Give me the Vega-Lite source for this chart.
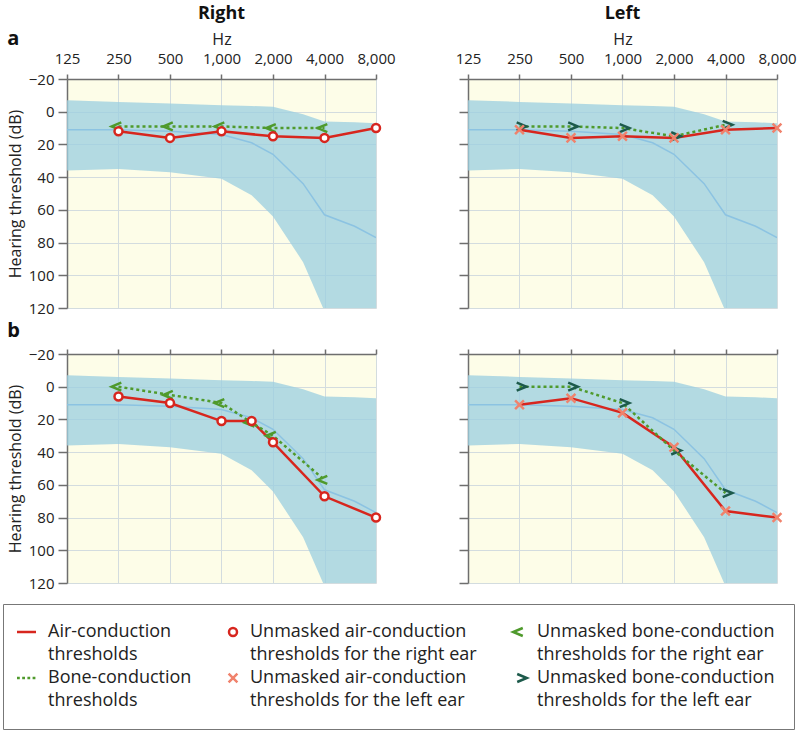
{
  "$schema": "https://vega.github.io/schema/vega-lite/v6.json",
  "background": "white",
  "padding": {"left": 2, "right": 2, "top": 5, "bottom": 2},
  "datasets": {
    "norm": [
      {"freq": 125, "upper": -7, "lower": 36, "median": 11},
      {"freq": 250, "upper": -6, "lower": 35, "median": 11},
      {"freq": 500, "upper": -5, "lower": 37, "median": 12},
      {"freq": 1000, "upper": -4, "lower": 41, "median": 14},
      {"freq": 1500, "upper": -3.5, "lower": 51, "median": 19},
      {"freq": 2000, "upper": -3, "lower": 64, "median": 26},
      {"freq": 3000, "upper": 1.5, "lower": 92, "median": 44},
      {"freq": 4000, "upper": 6, "lower": 122, "median": 63},
      {"freq": 6000, "upper": 6.5, "lower": 140, "median": 70},
      {"freq": 8000, "upper": 7, "lower": 140, "median": 77}
    ],
    "thr": [
      {"panel": "a", "ear": "Right", "kind": "air", "freq": 250, "db": 12},
      {"panel": "a", "ear": "Right", "kind": "air", "freq": 500, "db": 16},
      {"panel": "a", "ear": "Right", "kind": "air", "freq": 1000, "db": 12},
      {"panel": "a", "ear": "Right", "kind": "air", "freq": 2000, "db": 15},
      {"panel": "a", "ear": "Right", "kind": "air", "freq": 4000, "db": 16},
      {"panel": "a", "ear": "Right", "kind": "air", "freq": 8000, "db": 10},
      {"panel": "a", "ear": "Right", "kind": "bone", "freq": 250, "db": 9},
      {"panel": "a", "ear": "Right", "kind": "bone", "freq": 500, "db": 9},
      {"panel": "a", "ear": "Right", "kind": "bone", "freq": 1000, "db": 9},
      {"panel": "a", "ear": "Right", "kind": "bone", "freq": 2000, "db": 10},
      {"panel": "a", "ear": "Right", "kind": "bone", "freq": 4000, "db": 10},
      {"panel": "a", "ear": "Left", "kind": "air", "freq": 250, "db": 11},
      {"panel": "a", "ear": "Left", "kind": "air", "freq": 500, "db": 16},
      {"panel": "a", "ear": "Left", "kind": "air", "freq": 1000, "db": 15},
      {"panel": "a", "ear": "Left", "kind": "air", "freq": 2000, "db": 16},
      {"panel": "a", "ear": "Left", "kind": "air", "freq": 4000, "db": 11},
      {"panel": "a", "ear": "Left", "kind": "air", "freq": 8000, "db": 10},
      {"panel": "a", "ear": "Left", "kind": "bone", "freq": 250, "db": 9},
      {"panel": "a", "ear": "Left", "kind": "bone", "freq": 500, "db": 9},
      {"panel": "a", "ear": "Left", "kind": "bone", "freq": 1000, "db": 10},
      {"panel": "a", "ear": "Left", "kind": "bone", "freq": 2000, "db": 15},
      {"panel": "a", "ear": "Left", "kind": "bone", "freq": 4000, "db": 8},
      {"panel": "b", "ear": "Right", "kind": "air", "freq": 250, "db": 6},
      {"panel": "b", "ear": "Right", "kind": "air", "freq": 500, "db": 10},
      {"panel": "b", "ear": "Right", "kind": "air", "freq": 1000, "db": 21},
      {"panel": "b", "ear": "Right", "kind": "air", "freq": 1500, "db": 21},
      {"panel": "b", "ear": "Right", "kind": "air", "freq": 2000, "db": 34},
      {"panel": "b", "ear": "Right", "kind": "air", "freq": 4000, "db": 67},
      {"panel": "b", "ear": "Right", "kind": "air", "freq": 8000, "db": 80},
      {"panel": "b", "ear": "Right", "kind": "bone", "freq": 250, "db": 0},
      {"panel": "b", "ear": "Right", "kind": "bone", "freq": 500, "db": 5},
      {"panel": "b", "ear": "Right", "kind": "bone", "freq": 1000, "db": 10},
      {"panel": "b", "ear": "Right", "kind": "bone", "freq": 1500, "db": 22},
      {"panel": "b", "ear": "Right", "kind": "bone", "freq": 2000, "db": 30},
      {"panel": "b", "ear": "Right", "kind": "bone", "freq": 4000, "db": 57},
      {"panel": "b", "ear": "Left", "kind": "air", "freq": 250, "db": 11},
      {"panel": "b", "ear": "Left", "kind": "air", "freq": 500, "db": 7},
      {"panel": "b", "ear": "Left", "kind": "air", "freq": 1000, "db": 16},
      {"panel": "b", "ear": "Left", "kind": "air", "freq": 2000, "db": 37},
      {"panel": "b", "ear": "Left", "kind": "air", "freq": 4000, "db": 76},
      {"panel": "b", "ear": "Left", "kind": "air", "freq": 8000, "db": 80},
      {"panel": "b", "ear": "Left", "kind": "bone", "freq": 250, "db": 0},
      {"panel": "b", "ear": "Left", "kind": "bone", "freq": 500, "db": 0},
      {"panel": "b", "ear": "Left", "kind": "bone", "freq": 1000, "db": 10},
      {"panel": "b", "ear": "Left", "kind": "bone", "freq": 2000, "db": 39},
      {"panel": "b", "ear": "Left", "kind": "bone", "freq": 4000, "db": 65}
    ]
  },
  "resolve": {"scale": {"color": "shared", "shape": "shared"}, "legend": {"color": "shared", "shape": "shared"}},
  "vconcat": [
    {
      "title": {"text": "a", "anchor": "start", "fontSize": 20, "offset": -44},
      "bounds": "flush",
      "spacing": 92,
      "resolve": {"scale": {"color": "shared", "shape": "shared"}, "legend": {"color": "shared", "shape": "shared"}},
      "hconcat": [
        {
          "width": 309, "height": 229,
          "title": {"text": "Right"},
          "resolve": {"axis": {"y": "independent"}},
          "layer": [
            {"data": {"name": "norm"}, "mark": {"type": "area", "color": "#9dcfe0", "opacity": 0.78, "clip": true},
             "encoding": {
               "x": {"field": "freq", "type": "quantitative", "scale": {"type": "log", "base": 2, "domain": [125, 8000], "nice": false}, "axis": {"orient": "top", "values": [125, 250, 500, 1000, 2000, 4000, 8000], "format": ",", "title": "Hz", "tickSize": 5, "labelPadding": 8, "titlePadding": 4, "labelFlush": false, "labelOverlap": false}},
               "y": {"field": "lower", "type": "quantitative", "scale": {"domain": [-20, 120], "reverse": true, "nice": false, "zero": false}, "axis": {"orient": "left", "values": [-20, 0, 20, 40, 60, 80, 100, 120], "labelOverlap": false, "tickSize": 9, "labelPadding": 4, "title": "Hearing threshold (dB)", "titlePadding": 5}},
               "y2": {"field": "upper"}}},
            {"data": {"name": "norm"}, "mark": {"type": "line", "color": "#8cc3e2", "strokeWidth": 1.5, "clip": true},
             "encoding": {"x": {"field": "freq", "type": "quantitative"}, "y": {"field": "median", "type": "quantitative", "axis": {"orient": "left", "values": [-10, 10, 30, 50, 70, 90, 110], "labels": false, "ticks": false, "domain": false, "title": null}}}},
            {"data": {"name": "thr"}, "transform": [{"filter": "datum.panel == 'a' && datum.ear == 'Right' && datum.kind == 'air'"}],
             "mark": {"type": "line", "strokeWidth": 2.5},
             "encoding": {"x": {"field": "freq", "type": "quantitative"}, "y": {"field": "db", "type": "quantitative", "axis": null},
               "color": {"datum": "Air-conduction thresholds", "legend": {"labelExpr": "split(replace(datum.label, ' thresholds', '|thresholds'), '|')", "encode": {"labels": {"update": {"lineHeight": {"value": 23}}}}}, "scale": {"domain": ["Air-conduction thresholds", "Unmasked air-conduction thresholds for the right ear", "Unmasked bone-conduction thresholds for the right ear", "Bone-conduction thresholds", "Unmasked air-conduction thresholds for the left ear", "Unmasked bone-conduction thresholds for the left ear"], "range": ["#d7261e", "#d7261e", "#4f9a2c", "#4f9a2c", "#f0826c", "#1d5a4b"]}}}},
            {"data": {"name": "thr"}, "transform": [{"filter": "datum.panel == 'a' && datum.ear == 'Right' && datum.kind == 'bone'"}],
             "mark": {"type": "line", "strokeWidth": 2.5, "strokeDash": [3, 3]},
             "encoding": {"x": {"field": "freq", "type": "quantitative"}, "y": {"field": "db", "type": "quantitative", "axis": null},
               "color": {"datum": "Bone-conduction thresholds", "scale": {"domain": ["Air-conduction thresholds", "Unmasked air-conduction thresholds for the right ear", "Unmasked bone-conduction thresholds for the right ear", "Bone-conduction thresholds", "Unmasked air-conduction thresholds for the left ear", "Unmasked bone-conduction thresholds for the left ear"], "range": ["#d7261e", "#d7261e", "#4f9a2c", "#4f9a2c", "#f0826c", "#1d5a4b"]}}}},
            {"data": {"name": "thr"}, "transform": [{"filter": "datum.panel == 'a' && datum.ear == 'Right' && datum.kind == 'bone'"}],
             "mark": {"type": "point", "filled": false, "fill": "transparent", "strokeWidth": 2.5, "size": 64, "opacity": 1},
             "encoding": {"x": {"field": "freq", "type": "quantitative"}, "y": {"field": "db", "type": "quantitative", "axis": null},
               "color": {"datum": "Unmasked bone-conduction thresholds for the right ear", "scale": {"domain": ["Air-conduction thresholds", "Unmasked air-conduction thresholds for the right ear", "Unmasked bone-conduction thresholds for the right ear", "Bone-conduction thresholds", "Unmasked air-conduction thresholds for the left ear", "Unmasked bone-conduction thresholds for the left ear"], "range": ["#d7261e", "#d7261e", "#4f9a2c", "#4f9a2c", "#f0826c", "#1d5a4b"]}},
               "shape": {"datum": "Unmasked bone-conduction thresholds for the right ear", "legend": {"labelExpr": "split(replace(datum.label, ' thresholds', '|thresholds'), '|')", "encode": {"labels": {"update": {"lineHeight": {"value": 23}}}}}, "scale": {"domain": ["Air-conduction thresholds", "Unmasked air-conduction thresholds for the right ear", "Unmasked bone-conduction thresholds for the right ear", "Bone-conduction thresholds", "Unmasked air-conduction thresholds for the left ear", "Unmasked bone-conduction thresholds for the left ear"], "range": ["M-3.5,0H1.25", "M1,0A1,1 0 1,1 -1,0A1,1 0 1,1 1,0Z", "M0.7,-1L-1.7,0L0.7,1", "M-3.5,0H-2.8M-2.2,0H-1.5M-0.9,0H-0.2M0.4,0H1.1", "M-1.1,-1.1L1.1,1.1M-1.1,1.1L1.1,-1.1", "M-0.7,-1L1.7,0L-0.7,1"]}}}},
            {"data": {"name": "thr"}, "transform": [{"filter": "datum.panel == 'a' && datum.ear == 'Right' && datum.kind == 'air'"}],
             "mark": {"type": "point", "filled": false, "fill": "white", "strokeWidth": 2.5, "size": 64, "opacity": 1},
             "encoding": {"x": {"field": "freq", "type": "quantitative"}, "y": {"field": "db", "type": "quantitative", "axis": null},
               "color": {"datum": "Unmasked air-conduction thresholds for the right ear", "scale": {"domain": ["Air-conduction thresholds", "Unmasked air-conduction thresholds for the right ear", "Unmasked bone-conduction thresholds for the right ear", "Bone-conduction thresholds", "Unmasked air-conduction thresholds for the left ear", "Unmasked bone-conduction thresholds for the left ear"], "range": ["#d7261e", "#d7261e", "#4f9a2c", "#4f9a2c", "#f0826c", "#1d5a4b"]}},
               "shape": {"datum": "Unmasked air-conduction thresholds for the right ear", "scale": {"domain": ["Air-conduction thresholds", "Unmasked air-conduction thresholds for the right ear", "Unmasked bone-conduction thresholds for the right ear", "Bone-conduction thresholds", "Unmasked air-conduction thresholds for the left ear", "Unmasked bone-conduction thresholds for the left ear"], "range": ["M-3.5,0H1.25", "M1,0A1,1 0 1,1 -1,0A1,1 0 1,1 1,0Z", "M0.7,-1L-1.7,0L0.7,1", "M-3.5,0H-2.8M-2.2,0H-1.5M-0.9,0H-0.2M0.4,0H1.1", "M-1.1,-1.1L1.1,1.1M-1.1,1.1L1.1,-1.1", "M-0.7,-1L1.7,0L-0.7,1"]}}}}
          ]
        },
        {
          "width": 309, "height": 229,
          "title": {"text": "Left"},
          "resolve": {"axis": {"y": "independent"}},
          "layer": [
            {"data": {"name": "norm"}, "mark": {"type": "area", "color": "#9dcfe0", "opacity": 0.78, "clip": true},
             "encoding": {
               "x": {"field": "freq", "type": "quantitative", "scale": {"type": "log", "base": 2, "domain": [125, 8000], "nice": false}, "axis": {"orient": "top", "values": [125, 250, 500, 1000, 2000, 4000, 8000], "format": ",", "title": "Hz", "tickSize": 5, "labelPadding": 8, "titlePadding": 4, "labelFlush": false, "labelOverlap": false}},
               "y": {"field": "lower", "type": "quantitative", "scale": {"domain": [-20, 120], "reverse": true, "nice": false, "zero": false}, "axis": {"orient": "left", "values": [-20, 0, 20, 40, 60, 80, 100, 120], "labels": false, "tickSize": 9, "title": null}},
               "y2": {"field": "upper"}}},
            {"data": {"name": "norm"}, "mark": {"type": "line", "color": "#8cc3e2", "strokeWidth": 1.5, "clip": true},
             "encoding": {"x": {"field": "freq", "type": "quantitative"}, "y": {"field": "median", "type": "quantitative", "axis": {"orient": "left", "values": [-10, 10, 30, 50, 70, 90, 110], "labels": false, "ticks": false, "domain": false, "title": null}}}},
            {"data": {"name": "thr"}, "transform": [{"filter": "datum.panel == 'a' && datum.ear == 'Left' && datum.kind == 'air'"}],
             "mark": {"type": "line", "strokeWidth": 2.5},
             "encoding": {"x": {"field": "freq", "type": "quantitative"}, "y": {"field": "db", "type": "quantitative", "axis": null},
               "color": {"datum": "Air-conduction thresholds", "scale": {"domain": ["Air-conduction thresholds", "Unmasked air-conduction thresholds for the right ear", "Unmasked bone-conduction thresholds for the right ear", "Bone-conduction thresholds", "Unmasked air-conduction thresholds for the left ear", "Unmasked bone-conduction thresholds for the left ear"], "range": ["#d7261e", "#d7261e", "#4f9a2c", "#4f9a2c", "#f0826c", "#1d5a4b"]}}}},
            {"data": {"name": "thr"}, "transform": [{"filter": "datum.panel == 'a' && datum.ear == 'Left' && datum.kind == 'bone'"}],
             "mark": {"type": "line", "strokeWidth": 2.5, "strokeDash": [3, 3]},
             "encoding": {"x": {"field": "freq", "type": "quantitative"}, "y": {"field": "db", "type": "quantitative", "axis": null},
               "color": {"datum": "Bone-conduction thresholds", "scale": {"domain": ["Air-conduction thresholds", "Unmasked air-conduction thresholds for the right ear", "Unmasked bone-conduction thresholds for the right ear", "Bone-conduction thresholds", "Unmasked air-conduction thresholds for the left ear", "Unmasked bone-conduction thresholds for the left ear"], "range": ["#d7261e", "#d7261e", "#4f9a2c", "#4f9a2c", "#f0826c", "#1d5a4b"]}}}},
            {"data": {"name": "thr"}, "transform": [{"filter": "datum.panel == 'a' && datum.ear == 'Left' && datum.kind == 'bone'"}],
             "mark": {"type": "point", "filled": false, "fill": "transparent", "strokeWidth": 2.5, "size": 64, "opacity": 1},
             "encoding": {"x": {"field": "freq", "type": "quantitative"}, "y": {"field": "db", "type": "quantitative", "axis": null},
               "color": {"datum": "Unmasked bone-conduction thresholds for the left ear", "scale": {"domain": ["Air-conduction thresholds", "Unmasked air-conduction thresholds for the right ear", "Unmasked bone-conduction thresholds for the right ear", "Bone-conduction thresholds", "Unmasked air-conduction thresholds for the left ear", "Unmasked bone-conduction thresholds for the left ear"], "range": ["#d7261e", "#d7261e", "#4f9a2c", "#4f9a2c", "#f0826c", "#1d5a4b"]}},
               "shape": {"datum": "Unmasked bone-conduction thresholds for the left ear", "scale": {"domain": ["Air-conduction thresholds", "Unmasked air-conduction thresholds for the right ear", "Unmasked bone-conduction thresholds for the right ear", "Bone-conduction thresholds", "Unmasked air-conduction thresholds for the left ear", "Unmasked bone-conduction thresholds for the left ear"], "range": ["M-3.5,0H1.25", "M1,0A1,1 0 1,1 -1,0A1,1 0 1,1 1,0Z", "M0.7,-1L-1.7,0L0.7,1", "M-3.5,0H-2.8M-2.2,0H-1.5M-0.9,0H-0.2M0.4,0H1.1", "M-1.1,-1.1L1.1,1.1M-1.1,1.1L1.1,-1.1", "M-0.7,-1L1.7,0L-0.7,1"]}}}},
            {"data": {"name": "thr"}, "transform": [{"filter": "datum.panel == 'a' && datum.ear == 'Left' && datum.kind == 'air'"}],
             "mark": {"type": "point", "filled": false, "fill": "transparent", "strokeWidth": 2.5, "size": 64, "opacity": 1},
             "encoding": {"x": {"field": "freq", "type": "quantitative"}, "y": {"field": "db", "type": "quantitative", "axis": null},
               "color": {"datum": "Unmasked air-conduction thresholds for the left ear", "scale": {"domain": ["Air-conduction thresholds", "Unmasked air-conduction thresholds for the right ear", "Unmasked bone-conduction thresholds for the right ear", "Bone-conduction thresholds", "Unmasked air-conduction thresholds for the left ear", "Unmasked bone-conduction thresholds for the left ear"], "range": ["#d7261e", "#d7261e", "#4f9a2c", "#4f9a2c", "#f0826c", "#1d5a4b"]}},
               "shape": {"datum": "Unmasked air-conduction thresholds for the left ear", "scale": {"domain": ["Air-conduction thresholds", "Unmasked air-conduction thresholds for the right ear", "Unmasked bone-conduction thresholds for the right ear", "Bone-conduction thresholds", "Unmasked air-conduction thresholds for the left ear", "Unmasked bone-conduction thresholds for the left ear"], "range": ["M-3.5,0H1.25", "M1,0A1,1 0 1,1 -1,0A1,1 0 1,1 1,0Z", "M0.7,-1L-1.7,0L0.7,1", "M-3.5,0H-2.8M-2.2,0H-1.5M-0.9,0H-0.2M0.4,0H1.1", "M-1.1,-1.1L1.1,1.1M-1.1,1.1L1.1,-1.1", "M-0.7,-1L1.7,0L-0.7,1"]}}}}
          ]
        }
      ]
    },
    {
      "title": {"text": "b", "anchor": "start", "fontSize": 20, "offset": 6},
      "bounds": "flush",
      "spacing": 92,
      "resolve": {"scale": {"color": "shared", "shape": "shared"}, "legend": {"color": "shared", "shape": "shared"}},
      "hconcat": [
        {
          "width": 309, "height": 229,
          "resolve": {"axis": {"y": "independent"}},
          "layer": [
            {"data": {"name": "norm"}, "mark": {"type": "area", "color": "#9dcfe0", "opacity": 0.78, "clip": true},
             "encoding": {
               "x": {"field": "freq", "type": "quantitative", "scale": {"type": "log", "base": 2, "domain": [125, 8000], "nice": false}, "axis": {"orient": "top", "values": [125, 250, 500, 1000, 2000, 4000, 8000], "labels": false, "title": null, "tickSize": 5}},
               "y": {"field": "lower", "type": "quantitative", "scale": {"domain": [-20, 120], "reverse": true, "nice": false, "zero": false}, "axis": {"orient": "left", "values": [-20, 0, 20, 40, 60, 80, 100, 120], "labelOverlap": false, "tickSize": 9, "labelPadding": 4, "title": "Hearing threshold (dB)", "titlePadding": 5}},
               "y2": {"field": "upper"}}},
            {"data": {"name": "norm"}, "mark": {"type": "line", "color": "#8cc3e2", "strokeWidth": 1.5, "clip": true},
             "encoding": {"x": {"field": "freq", "type": "quantitative"}, "y": {"field": "median", "type": "quantitative", "axis": {"orient": "left", "values": [-10, 10, 30, 50, 70, 90, 110], "labels": false, "ticks": false, "domain": false, "title": null}}}},
            {"data": {"name": "thr"}, "transform": [{"filter": "datum.panel == 'b' && datum.ear == 'Right' && datum.kind == 'air'"}],
             "mark": {"type": "line", "strokeWidth": 2.5},
             "encoding": {"x": {"field": "freq", "type": "quantitative"}, "y": {"field": "db", "type": "quantitative", "axis": null},
               "color": {"datum": "Air-conduction thresholds", "scale": {"domain": ["Air-conduction thresholds", "Unmasked air-conduction thresholds for the right ear", "Unmasked bone-conduction thresholds for the right ear", "Bone-conduction thresholds", "Unmasked air-conduction thresholds for the left ear", "Unmasked bone-conduction thresholds for the left ear"], "range": ["#d7261e", "#d7261e", "#4f9a2c", "#4f9a2c", "#f0826c", "#1d5a4b"]}}}},
            {"data": {"name": "thr"}, "transform": [{"filter": "datum.panel == 'b' && datum.ear == 'Right' && datum.kind == 'bone'"}],
             "mark": {"type": "line", "strokeWidth": 2.5, "strokeDash": [3, 3]},
             "encoding": {"x": {"field": "freq", "type": "quantitative"}, "y": {"field": "db", "type": "quantitative", "axis": null},
               "color": {"datum": "Bone-conduction thresholds", "scale": {"domain": ["Air-conduction thresholds", "Unmasked air-conduction thresholds for the right ear", "Unmasked bone-conduction thresholds for the right ear", "Bone-conduction thresholds", "Unmasked air-conduction thresholds for the left ear", "Unmasked bone-conduction thresholds for the left ear"], "range": ["#d7261e", "#d7261e", "#4f9a2c", "#4f9a2c", "#f0826c", "#1d5a4b"]}}}},
            {"data": {"name": "thr"}, "transform": [{"filter": "datum.panel == 'b' && datum.ear == 'Right' && datum.kind == 'bone'"}],
             "mark": {"type": "point", "filled": false, "fill": "transparent", "strokeWidth": 2.5, "size": 64, "opacity": 1},
             "encoding": {"x": {"field": "freq", "type": "quantitative"}, "y": {"field": "db", "type": "quantitative", "axis": null},
               "color": {"datum": "Unmasked bone-conduction thresholds for the right ear", "scale": {"domain": ["Air-conduction thresholds", "Unmasked air-conduction thresholds for the right ear", "Unmasked bone-conduction thresholds for the right ear", "Bone-conduction thresholds", "Unmasked air-conduction thresholds for the left ear", "Unmasked bone-conduction thresholds for the left ear"], "range": ["#d7261e", "#d7261e", "#4f9a2c", "#4f9a2c", "#f0826c", "#1d5a4b"]}},
               "shape": {"datum": "Unmasked bone-conduction thresholds for the right ear", "scale": {"domain": ["Air-conduction thresholds", "Unmasked air-conduction thresholds for the right ear", "Unmasked bone-conduction thresholds for the right ear", "Bone-conduction thresholds", "Unmasked air-conduction thresholds for the left ear", "Unmasked bone-conduction thresholds for the left ear"], "range": ["M-3.5,0H1.25", "M1,0A1,1 0 1,1 -1,0A1,1 0 1,1 1,0Z", "M0.7,-1L-1.7,0L0.7,1", "M-3.5,0H-2.8M-2.2,0H-1.5M-0.9,0H-0.2M0.4,0H1.1", "M-1.1,-1.1L1.1,1.1M-1.1,1.1L1.1,-1.1", "M-0.7,-1L1.7,0L-0.7,1"]}}}},
            {"data": {"name": "thr"}, "transform": [{"filter": "datum.panel == 'b' && datum.ear == 'Right' && datum.kind == 'air'"}],
             "mark": {"type": "point", "filled": false, "fill": "white", "strokeWidth": 2.5, "size": 64, "opacity": 1},
             "encoding": {"x": {"field": "freq", "type": "quantitative"}, "y": {"field": "db", "type": "quantitative", "axis": null},
               "color": {"datum": "Unmasked air-conduction thresholds for the right ear", "scale": {"domain": ["Air-conduction thresholds", "Unmasked air-conduction thresholds for the right ear", "Unmasked bone-conduction thresholds for the right ear", "Bone-conduction thresholds", "Unmasked air-conduction thresholds for the left ear", "Unmasked bone-conduction thresholds for the left ear"], "range": ["#d7261e", "#d7261e", "#4f9a2c", "#4f9a2c", "#f0826c", "#1d5a4b"]}},
               "shape": {"datum": "Unmasked air-conduction thresholds for the right ear", "scale": {"domain": ["Air-conduction thresholds", "Unmasked air-conduction thresholds for the right ear", "Unmasked bone-conduction thresholds for the right ear", "Bone-conduction thresholds", "Unmasked air-conduction thresholds for the left ear", "Unmasked bone-conduction thresholds for the left ear"], "range": ["M-3.5,0H1.25", "M1,0A1,1 0 1,1 -1,0A1,1 0 1,1 1,0Z", "M0.7,-1L-1.7,0L0.7,1", "M-3.5,0H-2.8M-2.2,0H-1.5M-0.9,0H-0.2M0.4,0H1.1", "M-1.1,-1.1L1.1,1.1M-1.1,1.1L1.1,-1.1", "M-0.7,-1L1.7,0L-0.7,1"]}}}}
          ]
        },
        {
          "width": 309, "height": 229,
          "resolve": {"axis": {"y": "independent"}},
          "layer": [
            {"data": {"name": "norm"}, "mark": {"type": "area", "color": "#9dcfe0", "opacity": 0.78, "clip": true},
             "encoding": {
               "x": {"field": "freq", "type": "quantitative", "scale": {"type": "log", "base": 2, "domain": [125, 8000], "nice": false}, "axis": {"orient": "top", "values": [125, 250, 500, 1000, 2000, 4000, 8000], "labels": false, "title": null, "tickSize": 5}},
               "y": {"field": "lower", "type": "quantitative", "scale": {"domain": [-20, 120], "reverse": true, "nice": false, "zero": false}, "axis": {"orient": "left", "values": [-20, 0, 20, 40, 60, 80, 100, 120], "labels": false, "tickSize": 9, "title": null}},
               "y2": {"field": "upper"}}},
            {"data": {"name": "norm"}, "mark": {"type": "line", "color": "#8cc3e2", "strokeWidth": 1.5, "clip": true},
             "encoding": {"x": {"field": "freq", "type": "quantitative"}, "y": {"field": "median", "type": "quantitative", "axis": {"orient": "left", "values": [-10, 10, 30, 50, 70, 90, 110], "labels": false, "ticks": false, "domain": false, "title": null}}}},
            {"data": {"name": "thr"}, "transform": [{"filter": "datum.panel == 'b' && datum.ear == 'Left' && datum.kind == 'air'"}],
             "mark": {"type": "line", "strokeWidth": 2.5},
             "encoding": {"x": {"field": "freq", "type": "quantitative"}, "y": {"field": "db", "type": "quantitative", "axis": null},
               "color": {"datum": "Air-conduction thresholds", "scale": {"domain": ["Air-conduction thresholds", "Unmasked air-conduction thresholds for the right ear", "Unmasked bone-conduction thresholds for the right ear", "Bone-conduction thresholds", "Unmasked air-conduction thresholds for the left ear", "Unmasked bone-conduction thresholds for the left ear"], "range": ["#d7261e", "#d7261e", "#4f9a2c", "#4f9a2c", "#f0826c", "#1d5a4b"]}}}},
            {"data": {"name": "thr"}, "transform": [{"filter": "datum.panel == 'b' && datum.ear == 'Left' && datum.kind == 'bone'"}],
             "mark": {"type": "line", "strokeWidth": 2.5, "strokeDash": [3, 3]},
             "encoding": {"x": {"field": "freq", "type": "quantitative"}, "y": {"field": "db", "type": "quantitative", "axis": null},
               "color": {"datum": "Bone-conduction thresholds", "scale": {"domain": ["Air-conduction thresholds", "Unmasked air-conduction thresholds for the right ear", "Unmasked bone-conduction thresholds for the right ear", "Bone-conduction thresholds", "Unmasked air-conduction thresholds for the left ear", "Unmasked bone-conduction thresholds for the left ear"], "range": ["#d7261e", "#d7261e", "#4f9a2c", "#4f9a2c", "#f0826c", "#1d5a4b"]}}}},
            {"data": {"name": "thr"}, "transform": [{"filter": "datum.panel == 'b' && datum.ear == 'Left' && datum.kind == 'bone'"}],
             "mark": {"type": "point", "filled": false, "fill": "transparent", "strokeWidth": 2.5, "size": 64, "opacity": 1},
             "encoding": {"x": {"field": "freq", "type": "quantitative"}, "y": {"field": "db", "type": "quantitative", "axis": null},
               "color": {"datum": "Unmasked bone-conduction thresholds for the left ear", "scale": {"domain": ["Air-conduction thresholds", "Unmasked air-conduction thresholds for the right ear", "Unmasked bone-conduction thresholds for the right ear", "Bone-conduction thresholds", "Unmasked air-conduction thresholds for the left ear", "Unmasked bone-conduction thresholds for the left ear"], "range": ["#d7261e", "#d7261e", "#4f9a2c", "#4f9a2c", "#f0826c", "#1d5a4b"]}},
               "shape": {"datum": "Unmasked bone-conduction thresholds for the left ear", "scale": {"domain": ["Air-conduction thresholds", "Unmasked air-conduction thresholds for the right ear", "Unmasked bone-conduction thresholds for the right ear", "Bone-conduction thresholds", "Unmasked air-conduction thresholds for the left ear", "Unmasked bone-conduction thresholds for the left ear"], "range": ["M-3.5,0H1.25", "M1,0A1,1 0 1,1 -1,0A1,1 0 1,1 1,0Z", "M0.7,-1L-1.7,0L0.7,1", "M-3.5,0H-2.8M-2.2,0H-1.5M-0.9,0H-0.2M0.4,0H1.1", "M-1.1,-1.1L1.1,1.1M-1.1,1.1L1.1,-1.1", "M-0.7,-1L1.7,0L-0.7,1"]}}}},
            {"data": {"name": "thr"}, "transform": [{"filter": "datum.panel == 'b' && datum.ear == 'Left' && datum.kind == 'air'"}],
             "mark": {"type": "point", "filled": false, "fill": "transparent", "strokeWidth": 2.5, "size": 64, "opacity": 1},
             "encoding": {"x": {"field": "freq", "type": "quantitative"}, "y": {"field": "db", "type": "quantitative", "axis": null},
               "color": {"datum": "Unmasked air-conduction thresholds for the left ear", "scale": {"domain": ["Air-conduction thresholds", "Unmasked air-conduction thresholds for the right ear", "Unmasked bone-conduction thresholds for the right ear", "Bone-conduction thresholds", "Unmasked air-conduction thresholds for the left ear", "Unmasked bone-conduction thresholds for the left ear"], "range": ["#d7261e", "#d7261e", "#4f9a2c", "#4f9a2c", "#f0826c", "#1d5a4b"]}},
               "shape": {"datum": "Unmasked air-conduction thresholds for the left ear", "scale": {"domain": ["Air-conduction thresholds", "Unmasked air-conduction thresholds for the right ear", "Unmasked bone-conduction thresholds for the right ear", "Bone-conduction thresholds", "Unmasked air-conduction thresholds for the left ear", "Unmasked bone-conduction thresholds for the left ear"], "range": ["M-3.5,0H1.25", "M1,0A1,1 0 1,1 -1,0A1,1 0 1,1 1,0Z", "M0.7,-1L-1.7,0L0.7,1", "M-3.5,0H-2.8M-2.2,0H-1.5M-0.9,0H-0.2M0.4,0H1.1", "M-1.1,-1.1L1.1,1.1M-1.1,1.1L1.1,-1.1", "M-0.7,-1L1.7,0L-0.7,1"]}}}}
          ]
        }
      ]
    }
  ],
  "spacing": 5,
  "config": {
    "font": "Open Sans",
    "view": {"stroke": null, "fill": "#fdfde8"},
    "axis": {"domainColor": "#6e6e6e", "domainWidth": 1.5, "tickColor": "#6e6e6e", "tickWidth": 1.5, "gridColor": "#d3dcdf", "gridWidth": 1, "labelColor": "#222222", "titleColor": "#222222", "labelFontSize": 15, "titleFontSize": 16, "titleFontWeight": "normal", "labelFont": "Open Sans", "titleFont": "Open Sans"},
    "title": {"fontSize": 18, "fontWeight": "bold", "color": "#111111", "font": "Open Sans", "offset": 8},
    "legend": {
      "orient": "none", "legendX": -64, "legendY": 525, "direction": "horizontal", "columns": 3, "title": null,
      "labelFont": "Open Sans", "labelFontSize": 18, "labelColor": "#222222", "labelLimit": 400,
      "symbolSize": 64, "symbolStrokeWidth": 2.5, "columnPadding": 31, "rowPadding": 4, "labelOffset": 8,
      "strokeColor": "#777777", "fillColor": "white", "padding": 19
    }
  }
}
